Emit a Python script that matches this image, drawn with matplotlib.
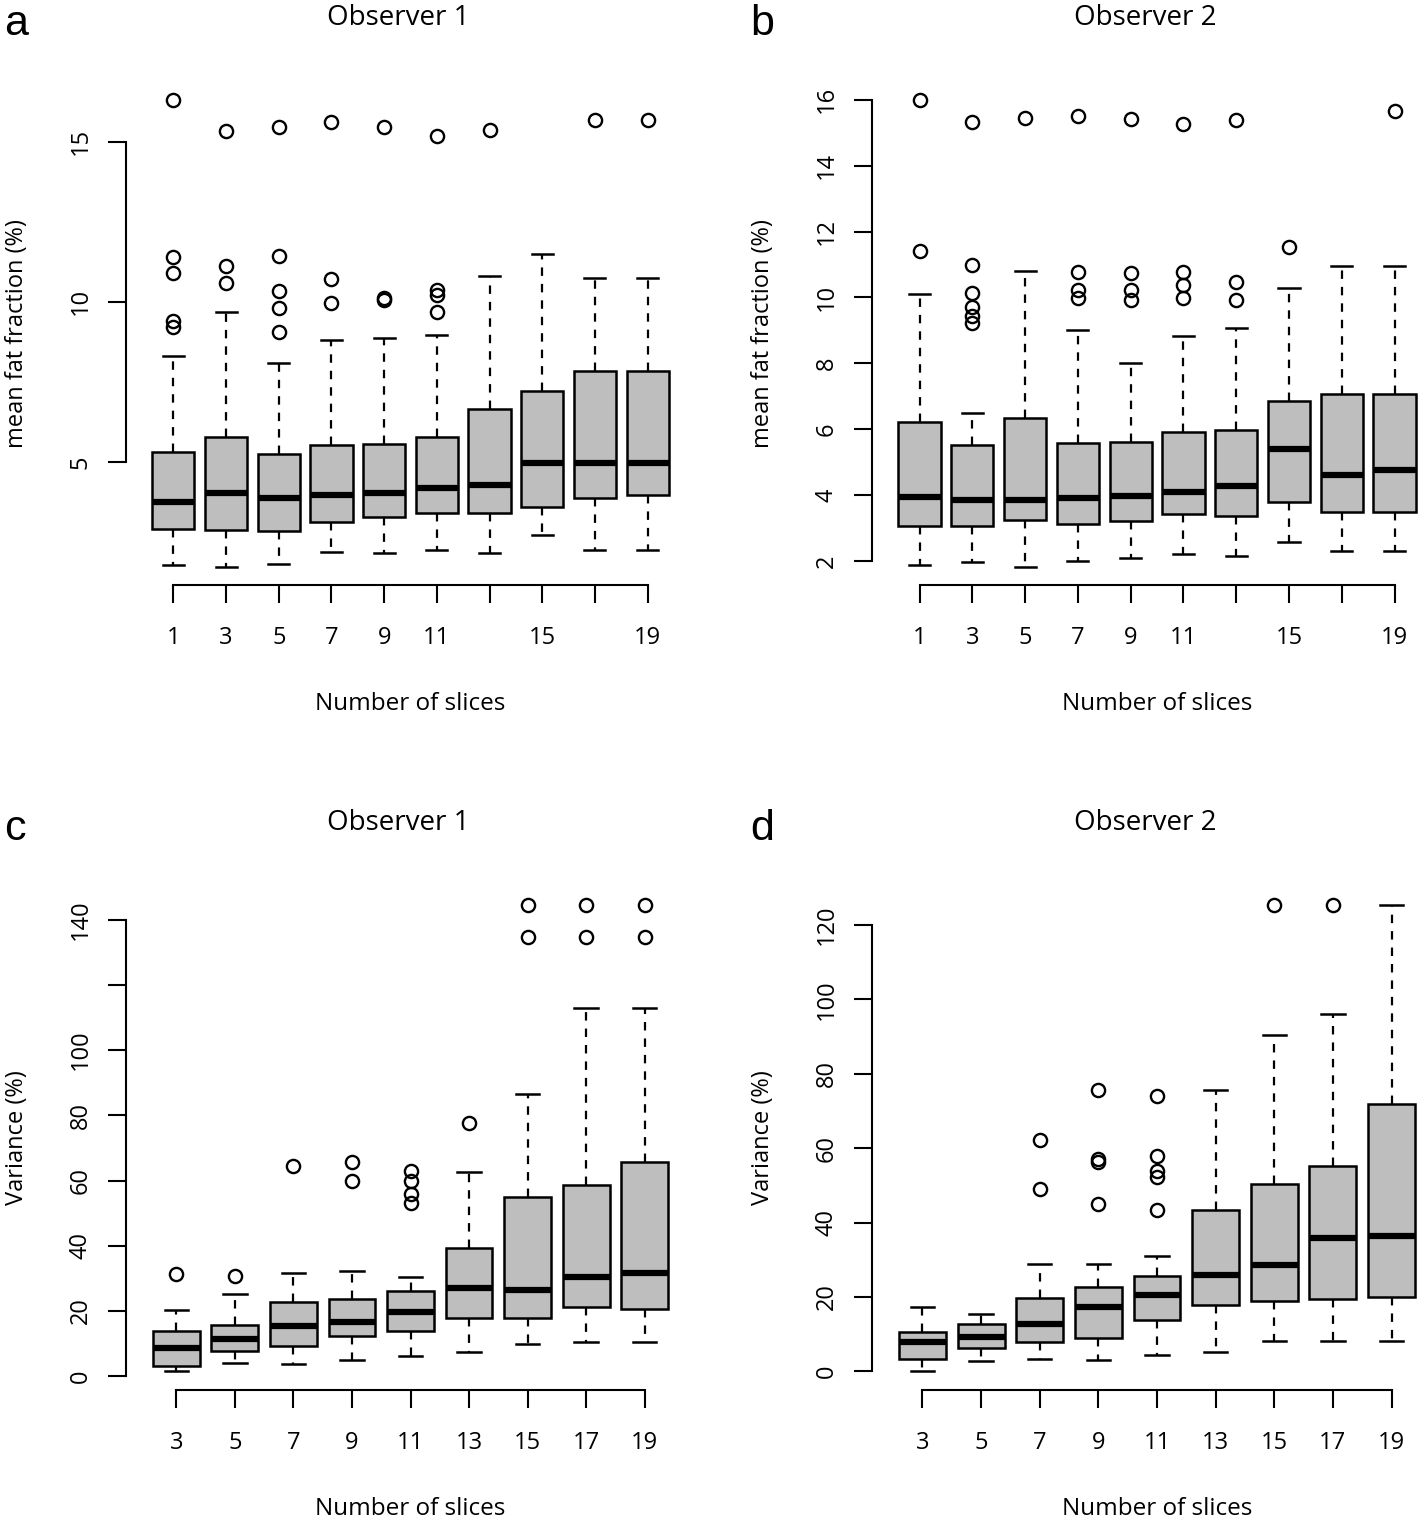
import numpy as np
import matplotlib.pyplot as plt

plt.rcParams['font.family'] = ['Open Sans', 'DejaVu Sans']

W, H = 1418, 1518

# slice counts on the x axis
slices_top = [1, 3, 5, 7, 9, 11, 13, 15, 17, 19]
slices_bot = [3, 5, 7, 9, 11, 13, 15, 17, 19]
xlab_top = ['1', '3', '5', '7', '9', '11', '', '15', '', '19']
xlab_bot = ['3', '5', '7', '9', '11', '13', '15', '17', '19']

# a: mean fat fraction, observer 1
a_q1 = [2.89, 2.88, 2.84, 3.12, 3.28, 3.41, 3.41, 3.59, 3.86, 3.97]
a_med = [3.75, 4.03, 3.87, 3.98, 4.04, 4.19, 4.28, 4.96, 4.98, 4.98]
a_q3 = [5.30, 5.79, 5.25, 5.54, 5.57, 5.79, 6.64, 7.22, 7.83, 7.84]
a_lo = [1.79, 1.72, 1.81, 2.19, 2.16, 2.23, 2.16, 2.70, 2.26, 2.26]
a_hi = [8.31, 9.68, 8.09, 8.82, 8.86, 8.95, 10.82, 11.49, 10.76, 10.76]
a_out = [[16.32, 11.41, 10.90, 9.41, 9.23], [15.33, 11.12, 10.60],
         [15.47, 11.42, 10.33, 9.81, 9.07], [15.62, 10.70, 9.95],
         [15.47, 10.13, 10.07], [15.20, 10.37, 10.21, 9.68], [15.36], [],
         [15.68], [15.68]]

# b: mean fat fraction, observer 2
b_q1 = [3.08, 3.08, 3.24, 3.14, 3.22, 3.42, 3.38, 3.80, 3.48, 3.48]
b_med = [3.95, 3.87, 3.87, 3.93, 3.97, 4.09, 4.28, 5.40, 4.60, 4.77]
b_q3 = [6.21, 5.52, 6.34, 5.58, 5.63, 5.91, 5.98, 6.87, 7.07, 7.07]
b_lo = [1.87, 1.97, 1.83, 2.02, 2.10, 2.21, 2.17, 2.59, 2.31, 2.31]
b_hi = [10.10, 6.50, 10.81, 9.01, 8.02, 8.84, 9.07, 10.30, 10.97, 10.97]
b_out = [[16.0, 11.40], [15.31, 10.99, 10.15, 9.72, 9.44, 9.24], [15.45],
         [15.52, 10.77, 10.24, 9.99], [15.41, 10.73, 10.24, 9.92],
         [15.27, 10.77, 10.37, 9.99], [15.38, 10.48, 9.92], [11.52], [],
         [15.66]]

# c: variance, observer 1
c_q1 = [3.2, 7.6, 9.3, 12.4, 13.8, 17.9, 17.9, 21.3, 20.6]
c_med = [8.8, 11.5, 15.5, 16.6, 19.7, 27.1, 26.3, 30.5, 31.8]
c_q3 = [13.8, 15.6, 22.7, 23.6, 26.2, 39.2, 55.1, 58.7, 65.7]
c_lo = [1.5, 4.0, 3.7, 4.9, 6.3, 7.4, 9.9, 10.4, 10.4]
c_hi = [20.2, 25.3, 31.8, 32.3, 30.5, 62.7, 86.6, 112.8, 112.8]
c_out = [[31.4], [30.6], [64.5], [65.6, 59.8], [62.9, 59.9, 55.8, 53.1],
         [77.7], [144.6, 134.7], [144.6, 134.7], [144.6, 134.7]]

# d: variance, observer 2
d_q1 = [3.4, 6.2, 8.0, 8.9, 13.9, 17.8, 18.8, 19.4, 19.9]
d_med = [7.8, 9.2, 12.8, 17.2, 20.4, 25.9, 28.6, 35.9, 36.4]
d_q3 = [10.6, 12.6, 19.8, 22.6, 25.7, 43.4, 50.5, 55.2, 71.9]
d_lo = [0.0, 2.9, 3.2, 3.0, 4.3, 5.2, 8.1, 8.1, 8.1]
d_hi = [17.4, 15.4, 28.8, 28.8, 31.0, 75.7, 90.4, 96.2, 125.5]
d_out = [[], [], [62.3, 49.0], [75.7, 57.2, 56.4, 44.9],
         [74.0, 57.8, 53.8, 52.2, 43.5], [], [125.5], [125.5], []]


def px_rect(l, t, r, b):
    return [l / W, 1 - b / H, (r - l) / W, (b - t) / H]


def r_lim(lo, hi):
    d = (hi - lo) * 0.04
    return lo - d, hi + d


def ftext(x, y, s, **kw):
    fig.text(x / W, 1 - y / H, s, **kw)


def panel(rect, pos, q1, med, q3, lo, hi, out, yticks, ylabs, xlabs,
          ylabel, title, letter):
    l, t, r, b = rect
    ax = fig.add_axes(px_rect(l, t, r, b))
    stats = [dict(q1=q1[i], med=med[i], q3=q3[i], whislo=lo[i],
                  whishi=hi[i], fliers=out[i]) for i in range(len(pos))]
    ax.bxp(stats, positions=pos, widths=1.6, capwidths=0.8,
           patch_artist=True, manage_ticks=False,
           boxprops=dict(facecolor='#bebebe', edgecolor='black', linewidth=1.8),
           medianprops=dict(color='black', linewidth=4.5, solid_capstyle='butt'),
           whiskerprops=dict(color='black', linewidth=1.6, linestyle=(0, (3.8, 3.6))),
           capprops=dict(color='black', linewidth=1.8),
           flierprops=dict(marker='o', markerfacecolor='none',
                           markeredgecolor='black', markersize=9.5,
                           markeredgewidth=1.7))
    ax.set_xlim(r_lim(pos[0] - 1, pos[-1] + 1))
    allv = np.concatenate([lo, hi] + [np.array(o, float) for o in out])
    ax.set_ylim(r_lim(allv.min(), allv.max()))
    for s in ['top', 'right']:
        ax.spines[s].set_visible(False)
    for s in ['left', 'bottom']:
        ax.spines[s].set_linewidth(1.5)
    ax.spines['left'].set_bounds(yticks[0], yticks[-1])
    ax.spines['bottom'].set_bounds(pos[0], pos[-1])
    ax.set_xticks(pos)
    ax.set_xticklabels(xlabs)
    ax.set_yticks(yticks)
    ax.set_yticklabels(ylabs, rotation=90, va='center')
    ax.tick_params(length=13, width=1.5, labelsize=17, color='black')
    ax.tick_params(axis='x', pad=16.5)
    ax.tick_params(axis='y', pad=11)
    ax.patch.set_visible(False)

    cx = (l + r) / 2
    cy = (t + b) / 2
    ftext(cx - 12, t - 56, title, ha='center', va='baseline', fontsize=20)
    ftext(cx, b + 125, 'Number of slices', ha='center', va='baseline', fontsize=17.5)
    ftext(l - 109, cy, ylabel, ha='center', va='center', rotation=90, fontsize=17)
    ftext(l - 122, t - 46, letter, ha='left', va='baseline', fontsize=31,
          family=['Liberation Sans', 'DejaVu Sans'])
    return ax


fig = plt.figure(figsize=(W / 100, H / 100), dpi=100)

row1 = (81, 585.5)
row2 = (886, 1390)
col1 = (126, 695)
col2 = (872, 1442)

panel((col1[0], row1[0], col1[1], row1[1]), slices_top, a_q1, a_med, a_q3,
      a_lo, a_hi, a_out, [5, 10, 15], ['5', '10', '15'], xlab_top,
      'mean fat fraction (%)', 'Observer 1', 'a')
panel((col2[0], row1[0], col2[1], row1[1]), slices_top, b_q1, b_med, b_q3,
      b_lo, b_hi, b_out, [2, 4, 6, 8, 10, 12, 14, 16],
      ['2', '4', '6', '8', '10', '12', '14', '16'], xlab_top,
      'mean fat fraction (%)', 'Observer 2', 'b')
panel((col1[0], row2[0], col1[1], row2[1]), slices_bot, c_q1, c_med, c_q3,
      c_lo, c_hi, c_out, [0, 20, 40, 60, 80, 100, 120, 140],
      ['0', '20', '40', '60', '80', '100', '', '140'], xlab_bot,
      'Variance (%)', 'Observer 1', 'c')
panel((col2[0], row2[0], col2[1], row2[1]), slices_bot, d_q1, d_med, d_q3,
      d_lo, d_hi, d_out, [0, 20, 40, 60, 80, 100, 120],
      ['0', '20', '40', '60', '80', '100', '120'], xlab_bot,
      'Variance (%)', 'Observer 2', 'd')

fig.savefig('out.png', dpi=100)
